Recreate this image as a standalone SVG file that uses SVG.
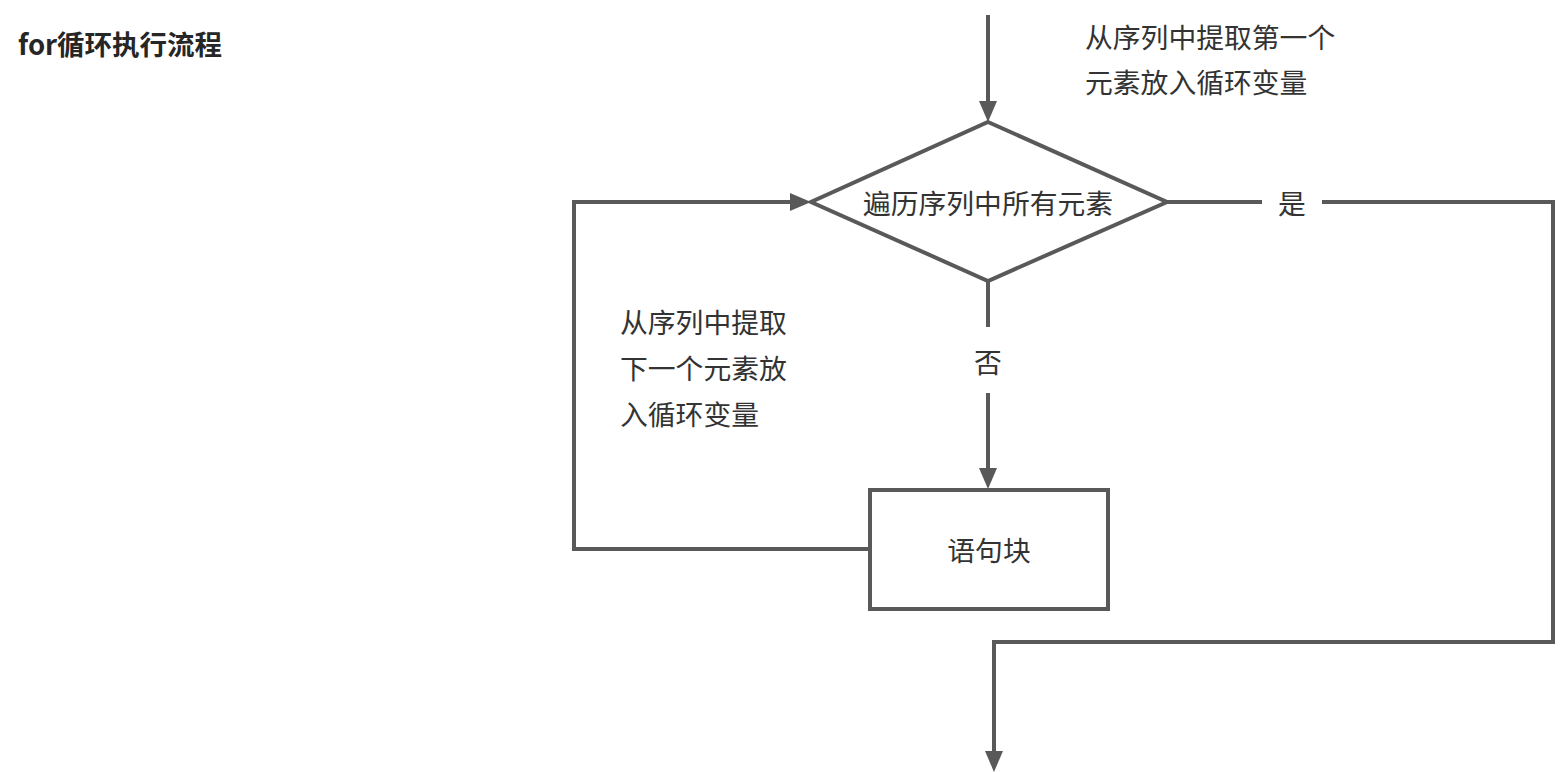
<svg xmlns="http://www.w3.org/2000/svg" width="1561" height="772" viewBox="0 0 1561 772">
<style>
.ln{fill:none;stroke:#595959;stroke-width:4;stroke-linejoin:miter}
.shape{fill:#ffffff;stroke:#595959;stroke-width:4}
.t{font-family:"Microsoft YaHei","Noto Sans CJK SC","Noto Sans",sans-serif;font-size:27.8px;fill:#333333}
.c{text-anchor:middle;dominant-baseline:central}
.title{font-weight:bold;fill:#262626;font-size:27.5px}
</style>
<defs>
<marker id="arr" markerUnits="userSpaceOnUse" viewBox="0 0 21 18" refX="0" refY="9" markerWidth="21" markerHeight="18" orient="auto">
<path d="M0 0 L21 9 L0 18 Z" fill="#595959"/>
</marker>
</defs>
<rect width="1561" height="772" fill="#ffffff"/>
<text class="t title" x="18" y="55">for循环执行流程</text>
<g id="connectors">
<path class="ln" d="M988 15 V101" marker-end="url(#arr)"/>
<path class="ln" d="M870 549 H574 V202 H790" marker-end="url(#arr)"/>
<path class="ln" d="M988 281 V327"/>
<path class="ln" d="M988 393 V468" marker-end="url(#arr)"/>
<path class="ln" d="M1167 202 H1262"/>
<path class="ln" d="M1322 202 H1553 V642 H994 V751" marker-end="url(#arr)"/>
<text class="t c" x="1292" y="202">是</text>
<text class="t c" x="988" y="361">否</text>
<text class="t" x="1085" y="48">从序列中提取第一个</text>
<text class="t" x="1085" y="93">元素放入循环变量</text>
<text class="t" x="620" y="333">从序列中提取</text>
<text class="t" x="620" y="379">下一个元素放</text>
<text class="t" x="620" y="425">入循环变量</text>
</g>
<g id="decision">
<polygon class="shape" points="988,122 1167,202 988,281 811,202"/>
<text class="t c" x="988" y="202">遍历序列中所有元素</text>
</g>
<g id="block">
<rect class="shape" x="870" y="490" width="238" height="119"/>
<text class="t c" x="989" y="549">语句块</text>
</g>
</svg>
